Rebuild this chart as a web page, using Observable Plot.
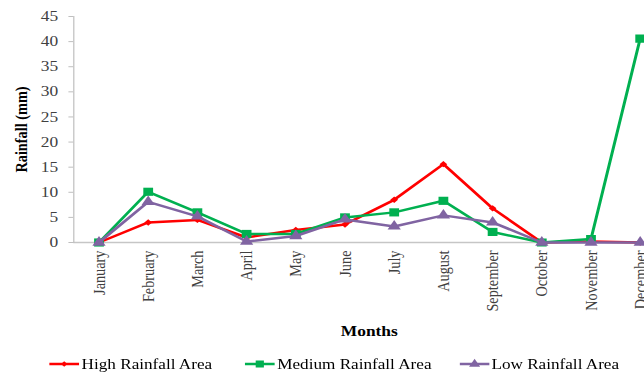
<!DOCTYPE html>
<html>
<head>
<meta charset="utf-8">
<script src="https://cdn.jsdelivr.net/npm/d3@7"></script>
<script src="https://cdn.jsdelivr.net/npm/@observablehq/plot@0.6"></script>
<style>
  html, body { margin: 0; padding: 0; background: #fff; overflow: hidden; }
  #outer { width: 644px; height: 374px; overflow: hidden; position: relative; }
  #inner { width: 556px; transform: scaleX(1.2); transform-origin: 0 0; }
  #legend { position: relative; height: 29px; font-family: "Liberation Serif", "Times New Roman", serif; font-size: 14.3px; color: #000; }
  .item { position: absolute; top: 11px; display: flex; align-items: center; height: 16px; white-space: nowrap; }
  .item svg { margin-right: 2px; }
</style>
</head>
<body>
<div id="outer"><div id="inner"><div id="chart"></div><div id="legend"></div></div></div>
<script>
// Monthly rainfall (mm) for three rainfall zones
const months = ["January", "February", "March", "April", "May", "June",
  "July", "August", "September", "October", "November", "December"];
const highRainfall = [0, 4.0, 4.5, 1.0, 2.5, 3.6, 8.5, 15.6, 6.8, 0, 0.2, 0];
const mediumRainfall = [0, 10.1, 6.0, 1.7, 1.7, 5.0, 6.0, 8.3, 2.1, 0, 0.7, 40.6];
const lowRainfall = [0, 8.1, 5.2, 0.2, 1.3, 4.6, 3.2, 5.4, 4.0, 0, 0, 0];
const seriesNames = ["High Rainfall Area", "Medium Rainfall Area", "Low Rainfall Area"];
const yTicks = [0, 5, 10, 15, 20, 25, 30, 35, 40, 45];

// styling per series
const seriesColors = ["#ff0000", "#00b050", "#8064a2"];
const seriesSymbols = ["diamond2", "square", "triangle"];
const seriesRadius = [2.9, 4.6, 4.1];

const seriesValues = [highRainfall, mediumRainfall, lowRainfall];
const series = seriesNames.map((name, k) => ({
  name,
  color: seriesColors[k],
  symbol: seriesSymbols[k],
  r: seriesRadius[k],
  rows: months.map((month, i) => ({month, value: seriesValues[k][i]}))
}));

const font = '"Liberation Serif", "Times New Roman", serif';

const chart = Plot.plot({
  width: 556,
  height: 345,
  marginLeft: 61,
  marginRight: 2.5,
  marginTop: 16,
  marginBottom: 103,
  style: {fontFamily: font, fontSize: "14px", color: "#404040", background: "#fff"},
  x: {type: "point", domain: months, padding: 0.5},
  y: {domain: [0, 45]},
  marks: [
    Plot.ruleY([0], {stroke: "#c6c6c6", strokeWidth: 1.3}),
    Plot.frame({anchor: "left", stroke: "#bfbfbf"}),
    Plot.axisY({ticks: yTicks, tickSize: 4, tickPadding: 9, stroke: "#bfbfbf", fontSize: 14.5, label: null}),
    Plot.axisX({tickRotate: -90, tickSize: 0, tickPadding: 8, fontSize: 14.3, label: null}),
    Plot.text(["Rainfall (mm)"], {frameAnchor: "left", rotate: -90, dx: -44, textAnchor: "middle", lineAnchor: "middle", fontWeight: "bold", fontSize: 14.3, fill: "#000"}),
    Plot.text(["Months"], {frameAnchor: "bottom", dy: 89, textAnchor: "middle", lineAnchor: "middle", fontWeight: "bold", fontSize: 14.5, fill: "#000"}),
    ...series.flatMap(s => [
      Plot.line(s.rows, {x: "month", y: "value", stroke: s.color, strokeWidth: 2.5}),
      Plot.dot(s.rows, {x: "month", y: "value", symbol: s.symbol, r: s.r, fill: s.color, stroke: "none"})
    ])
  ]
});
document.getElementById("chart").appendChild(chart);

// legend with line-and-marker swatches
const legend = d3.select("#legend");
const legendLeft = [41, 204, 382.5];
const symbolTypes = {diamond2: d3.symbolDiamond2, square: d3.symbolSquare, triangle: d3.symbolTriangle};
series.forEach((s, k) => {
  const item = legend.append("div").attr("class", "item").style("left", legendLeft[k] + "px");
  const sw = item.append("svg").attr("width", 25).attr("height", 12);
  sw.append("line").attr("x1", 0).attr("x2", 25).attr("y1", 6).attr("y2", 6)
    .attr("stroke", s.color).attr("stroke-width", 2.5);
  sw.append("path").attr("transform", "translate(12.5,6)")
    .attr("d", d3.symbol(symbolTypes[s.symbol], Math.PI * s.r * s.r * 0.7)())
    .attr("fill", s.color);
  item.append("span").text(s.name);
});
</script>
</body>
</html>
